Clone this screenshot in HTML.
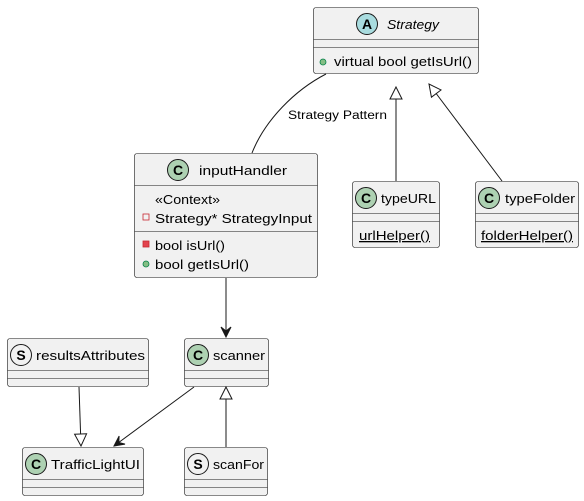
<!DOCTYPE html>
<html><head><meta charset="utf-8"><style>
html,body{margin:0;padding:0;background:#fff;}
svg{display:block;font-family:"Liberation Sans","DejaVu Sans",sans-serif;}
</style></head><body>
<svg width="584" height="501" viewBox="0 0 584 501" xmlns="http://www.w3.org/2000/svg">
<defs>
<marker id="tri" markerWidth="14" markerHeight="14" refX="0" refY="0" orient="auto" overflow="visible" markerUnits="userSpaceOnUse"><path d="M0,0 L-12,-6 L-12,6 Z" fill="#fff" stroke="#181818" stroke-width="1"/></marker>
<marker id="arr" markerWidth="12" markerHeight="12" refX="0" refY="0" orient="auto" overflow="visible" markerUnits="userSpaceOnUse"><path d="M0,0 L-10,-5 L-6,0 L-10,5 Z" fill="#181818" stroke="#181818" stroke-width="1"/></marker>
</defs>
<g fill="#f1f1f1" stroke="#181818" stroke-width="0.6">
<rect x="313.5" y="7.5" width="165" height="66" rx="2.5"/>
<rect x="134.5" y="153.5" width="183" height="124" rx="2.5"/>
<rect x="352.5" y="181.5" width="87" height="66" rx="2.5"/>
<rect x="475.5" y="181.5" width="103" height="66" rx="2.5"/>
<rect x="7.5" y="338.5" width="141" height="48" rx="2.5"/>
<rect x="184.5" y="338.5" width="84" height="48" rx="2.5"/>
<rect x="22.5" y="447.5" width="121" height="48" rx="2.5"/>
<rect x="184.5" y="447.5" width="83" height="48" rx="2.5"/>
</g>
<g stroke="#181818" stroke-width="0.6">
<line x1="313.5" y1="39.5" x2="478.5" y2="39.5"/><line x1="313.5" y1="47.5" x2="478.5" y2="47.5"/>
<line x1="134.5" y1="185.5" x2="317.5" y2="185.5"/><line x1="134.5" y1="231.5" x2="317.5" y2="231.5"/>
<line x1="352.5" y1="213.5" x2="439.5" y2="213.5"/><line x1="352.5" y1="221.5" x2="439.5" y2="221.5"/>
<line x1="475.5" y1="213.5" x2="578.5" y2="213.5"/><line x1="475.5" y1="221.5" x2="578.5" y2="221.5"/>
<line x1="7.5" y1="370.5" x2="148.5" y2="370.5"/><line x1="7.5" y1="378.5" x2="148.5" y2="378.5"/>
<line x1="184.5" y1="370.5" x2="268.5" y2="370.5"/><line x1="184.5" y1="378.5" x2="268.5" y2="378.5"/>
<line x1="22.5" y1="479.5" x2="143.5" y2="479.5"/><line x1="22.5" y1="487.5" x2="143.5" y2="487.5"/>
<line x1="184.5" y1="479.5" x2="267.5" y2="479.5"/><line x1="184.5" y1="487.5" x2="267.5" y2="487.5"/>
</g>
<g stroke="#181818" stroke-width="1" fill="none">
<path d="M326,74 C295,90 265,120 252,153"/>
<line x1="396" y1="181" x2="396" y2="87" marker-end="url(#tri)"/>
<line x1="502" y1="181" x2="429" y2="84" marker-end="url(#tri)"/>
<line x1="226" y1="278" x2="226" y2="337" marker-end="url(#arr)"/>
<line x1="79" y1="387" x2="81" y2="446" marker-end="url(#tri)"/>
<line x1="194" y1="387" x2="114" y2="446" marker-end="url(#arr)"/>
<line x1="226" y1="447" x2="226" y2="387" marker-end="url(#tri)"/>
</g>
<g stroke="#181818" stroke-width="1">
<circle cx="367" cy="24" r="10.5" fill="#a9dcdf"/>
<circle cx="178" cy="170" r="10.5" fill="#add1b2"/>
<circle cx="366" cy="198" r="10.5" fill="#add1b2"/>
<circle cx="489" cy="198" r="10.5" fill="#add1b2"/>
<circle cx="21" cy="355" r="10.5" fill="#f1f1f1"/>
<circle cx="198" cy="355" r="10.5" fill="#add1b2"/>
<circle cx="36" cy="464" r="10.5" fill="#add1b2"/>
<circle cx="198" cy="464" r="10.5" fill="#f1f1f1"/>
</g>
<g font-weight="bold" font-size="14" text-anchor="middle" fill="#000">
<text x="367" y="29">A</text><text x="178" y="175">C</text><text x="366" y="203">C</text><text x="489" y="203">C</text>
<text x="21" y="360">S</text><text x="198" y="360">C</text><text x="36" y="469">C</text><text x="198" y="469">S</text>
</g>
<g font-size="13" fill="#000">
<text x="387" y="29" font-style="italic" textLength="52" lengthAdjust="spacingAndGlyphs">Strategy</text>
<text x="334" y="66" textLength="138" lengthAdjust="spacingAndGlyphs">virtual bool getIsUrl()</text>
<text x="199" y="175" textLength="88" lengthAdjust="spacingAndGlyphs">inputHandler</text>
<text x="155" y="204" textLength="65" lengthAdjust="spacingAndGlyphs">«Context»</text>
<text x="155" y="223" textLength="157" lengthAdjust="spacingAndGlyphs">Strategy* StrategyInput</text>
<text x="155" y="250" textLength="70" lengthAdjust="spacingAndGlyphs">bool isUrl()</text>
<text x="155" y="269" textLength="94" lengthAdjust="spacingAndGlyphs">bool getIsUrl()</text>
<text x="381" y="203" textLength="55" lengthAdjust="spacingAndGlyphs">typeURL</text>
<text x="359" y="240" text-decoration="underline" textLength="71" lengthAdjust="spacingAndGlyphs">urlHelper()</text>
<text x="505" y="203" textLength="70" lengthAdjust="spacingAndGlyphs">typeFolder</text>
<text x="481" y="240" text-decoration="underline" textLength="92" lengthAdjust="spacingAndGlyphs">folderHelper()</text>
<text x="36" y="360" textLength="109" lengthAdjust="spacingAndGlyphs">resultsAttributes</text>
<text x="213" y="360" textLength="52" lengthAdjust="spacingAndGlyphs">scanner</text>
<text x="51" y="469" textLength="89" lengthAdjust="spacingAndGlyphs">TrafficLightUI</text>
<text x="213" y="469" textLength="51" lengthAdjust="spacingAndGlyphs">scanFor</text>
</g>
<text x="288" y="119" font-size="11.5" fill="#000" textLength="99" lengthAdjust="spacingAndGlyphs">Strategy Pattern</text>
<circle cx="323" cy="62" r="3" fill="#84be84" stroke="#038048" stroke-width="0.8"/>
<rect x="143" y="214" width="6" height="6" fill="none" stroke="#c82930" stroke-width="0.8"/>
<rect x="143" y="241" width="6" height="6" fill="#e2434e" stroke="#c82930" stroke-width="0.8"/>
<circle cx="146" cy="264" r="3" fill="#84be84" stroke="#038048" stroke-width="0.8"/>
</svg>
</body></html>
